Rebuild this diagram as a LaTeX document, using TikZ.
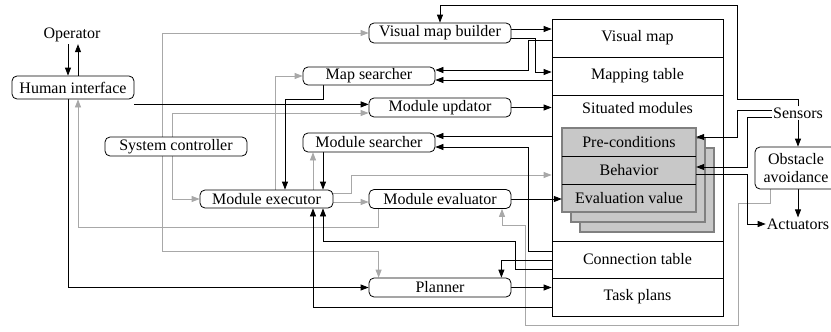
\documentclass[tikz,border=0pt]{standalone}
\usepackage{fontspec}
\setmainfont{Liberation Serif}
\usetikzlibrary{calc,arrows.meta}
\definecolor{wire}{HTML}{A8A8A8}
\definecolor{cardfill}{HTML}{C8C8C8}
\definecolor{cardline}{HTML}{808080}
\pgfdeclarelayer{back}
\pgfdeclarelayer{wires}
\pgfsetlayers{back,wires,main}
\begin{document}
\begin{tikzpicture}[x=1pt,y=-1pt,
  font=\fontsize{16}{18}\selectfont,
  mod/.style={draw, fill=white, rounded corners=5pt, inner sep=0pt, minimum height=19pt, line width=0.8pt},
  cell/.style={draw, inner sep=0pt, minimum width=171pt, line width=0.8pt},
  crow/.style={inner sep=0pt, minimum width=134pt, minimum height=28pt},
  card/.style={fill=cardfill, draw=cardline, line width=2.5pt},
  tip/.style={-{Triangle[length=8pt,width=6pt]}},
  bk/.style={line width=0.8pt, tip},
  gy/.style={draw=wire, line width=0.8pt, -{Triangle[length=8pt,width=6pt,fill=wire]}}]
\useasboundingbox (0,0) rectangle (831,332);

% memory table
\node[cell, minimum height=38pt] (vm) at (637.5,38) {Visual map};
\node[cell, minimum height=38pt] (mt) at (637.5,76) {Mapping table};
\node[cell, minimum height=146pt] (sm) at (637.5,168) {};
\node (smlabel) at (637.5,108) {Situated modules};
\node[cell, minimum height=37pt] (ct) at (637.5,259.5) {Connection table};
\node[cell, minimum height=38pt] (tp) at (637.5,297) {Task plans};

% situated module cards
\node[crow] (pc) at (629,142) {Pre-conditions};
\node[crow] (bh) at (629,170) {Behavior};
\node[crow] (ev) at (629,198) {Evaluation value};
\begin{pgfonlayer}{back}
  \fill[white] (0,0) rectangle (831,332);
  \draw[card] ($(pc.north west)+(18,20)$) rectangle ($(ev.south east)+(18,20)$);
  \draw[card] ($(pc.north west)+(9,10)$) rectangle ($(ev.south east)+(9,10)$);
  \draw[card] (pc.north west) rectangle (ev.south east);
  \draw[line width=0.8pt] (pc.south west) -- (pc.south east) (bh.south west) -- (bh.south east);
\end{pgfonlayer}

% modules
\node[inner sep=2pt] (Op) at (72,35) {Operator};
\node[mod, minimum width=122pt, minimum height=23pt] (HI) at (73,87.5) {Human interface};
\node[mod, minimum width=142pt] (SC) at (176,146.5) {System controller};
\node[mod, minimum width=142pt, minimum height=20pt] (VMB) at (440,33) {Visual map builder};
\node[mod, minimum width=132pt, minimum height=18pt] (MS) at (369,76) {Map searcher};
\node[mod, minimum width=142pt] (MU) at (440,107.5) {Module updator};
\node[mod, minimum width=132pt] (MSr) at (369,142.5) {Module searcher};
\node[mod, minimum width=133pt, minimum height=18pt] (MX) at (266.5,199) {Module executor};
\node[mod, minimum width=142pt] (MEv) at (440,199) {Module evaluator};
\node[mod, minimum width=142pt] (PL) at (440,287.5) {Planner};
\node[mod, minimum width=82pt, minimum height=42pt, align=center] (OA) at (796,168) {Obstacle\\avoidance};
\node[inner sep=1pt] (Sen) at (798,113) {Sensors};
\node[inner sep=1pt] (Act) at (798,224) {Actuators};

\begin{pgfonlayer}{wires}
% control lines
\draw[gy] ($(SC.north)+(-14,0)$) |- (VMB.west);
\draw[gy] ($(SC.south)+(-14,0)$) -- (162,251) -| ($(PL.north west)+(10,0)$);
\draw[gy] ($(SC.north)+(-4,0)$) |- ($(MU.west)+(0,5.5)$);
\draw[gy] ($(SC.south)+(-4,0)$) |- (MX.west);
\draw[gy] ($(MX.north)+(8.5,0)$) |- (MS.west);
\draw[gy] ($(MX.north)+(46.5,0)$) -- ($(MSr.south)+(-56,0)$);
\draw[gy] ($(MX.east)+(0,-6)$) -- ++(18,0) |- ($(sm.west)+(0,7)$);
\draw[gy] ($(MX.east)+(0,3)$) -- ($(MEv.west)+(0,3)$);
\draw[gy] ($(MEv.south west)+(10,0)$) -- ++(0,18) -| ($(HI.south)+(5,0)$);
\draw[gy] ($(OA.south)+(-26,0)$) -- ++(0,14) -| (738,325) -| (525,225) -| ($(MEv.south)+(62,0)$);

% data lines
\draw[bk] ($(Op.south)+(-4,0)$) -- ($(HI.north)+(-5,0)$);
\draw[bk] ($(HI.north)+(5,0)$) -- ($(Op.south)+(6,0)$);
\coordinate (hiOut) at ($(HI.south east)+(0,5)$);
\draw[bk] (hiOut) -- (hiOut -| MU.west);
\draw[bk] ($(HI.south)+(-5,0)$) |- (PL.west);
\draw[bk] ($(MS.south)+(-46,0)$) -- ++(0,14) -| ($(MX.north)+(18.5,0)$);
\draw[bk] ($(MSr.south)+(-46,0)$) -- ($(MX.north)+(56.5,0)$);
\draw[bk] ($(tp.west)+(0,10)$) -| ($(MX.south)+(46.5,0)$);
\draw[bk] ($(ct.west)+(0,9.5)$) -- ++(-36,0) -- ++(0,-28) -| ($(MX.south)+(56.5,0)$);
\draw[bk] ($(ct.west)+(0,0.5)$) -| ($(PL.north east)+(-10,0)$);
\draw[bk] (PL.east) -- (PL.east -| tp.west);
\draw[bk] ($(ct.west)+(0,-8.5)$) -- ++(-23,0) |- ($(MSr.east)+(0,4.5)$);
\coordinate (msrA) at ($(MSr.east)+(0,-6.5)$);
\draw[bk] (msrA -| sm.west) -- (msrA);
\draw[bk] (MEv.east) -- (MEv.east -| ev.west);
\draw[bk] (MU.east) -- (MU.east -| sm.west);
\coordinate (vmbA) at ($(VMB.east)+(0,-4)$);
\draw[bk] (vmbA) -- (vmbA -| vm.west);
\draw[bk] ($(VMB.east)+(0,5)$) -- ++(24,0) |- ($(mt.west)+(0,-4)$);
\draw[bk] ($(vm.west)+(0,2)$) -- ++(-23,0) |- ($(MS.east)+(0,-6)$);
\coordinate (msB) at ($(MS.east)+(0,4)$);
\draw[bk] (msB -| mt.west) -- (msB);

% sensors and actuators
\draw[bk] (Sen.north) |- (737,99) -- (737,5) -| (VMB.north);
\draw[bk] (Sen.south) -- (Sen.south |- OA.north);
\draw[bk] ($(Sen.west)+(0,-3)$) -- (737,110) |- ($(pc.east)+(0,-5)$);
\draw[bk] ($(Sen.west)+(0,4)$) -- (747,117) |- ($(bh.east)+(0,-3)$);
\draw[bk] ($(bh.east)+(0,4)$) -- (747,174) |- (Act.west);
\draw[bk] (OA.south -| Act.north) -- (Act.north);
\end{pgfonlayer}
\end{tikzpicture}
\end{document}
